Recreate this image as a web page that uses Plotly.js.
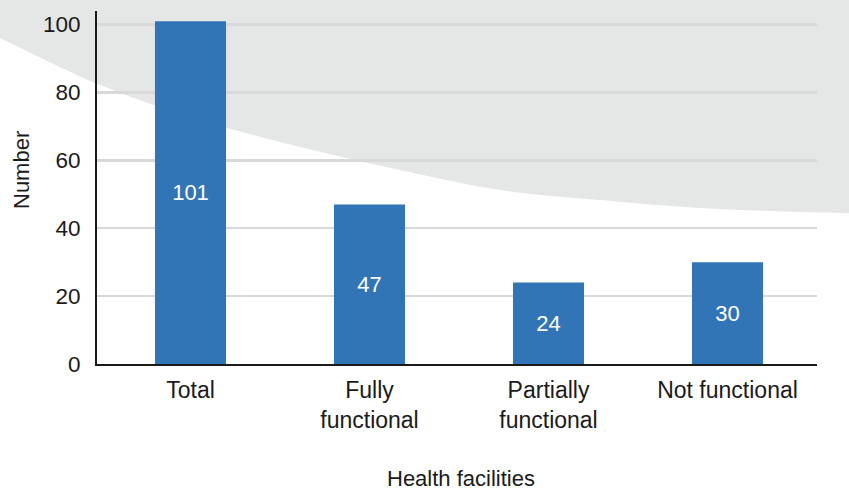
<!DOCTYPE html>
<html><head><meta charset="utf-8">
<script src="https://cdn.plot.ly/plotly-3.0.1.min.js"></script>
<style>html,body{margin:0;padding:0;background:#fff}#c{width:849px;height:490px}</style>
</head><body><div id="c"></div>
<script>
const categories = ["Total", "Fully<br>functional", "Partially<br>functional", "Not functional"];
const values = [101, 47, 24, 30];
const yTicks = [0, 20, 40, 60, 80, 100];

const W = 849, H = 490;
const M = {l: 97, r: 32, t: 11, b: 126};
const pw = W - M.l - M.r, ph = H - M.t - M.b;
function px2paper(x, y) { return [(x - M.l) / pw, (H - M.b - y) / ph]; }

// decorative background curve (pixel guide points)
const curve = [[849,213],[800,212],[700,208],[600,200],[500,190],[400,170],[300,147],[200,120],[100,85],[0,38]];
function pathFromCurve() {
  const pts = curve.map(p => px2paper(p[0], p[1]));
  let tl = px2paper(0, 0), tr = px2paper(849, 0);
  let d = `M${tl[0]},${tl[1]} L${tr[0]},${tr[1]} L${pts[0][0]},${pts[0][1]}`;
  for (let i = 0; i < pts.length - 1; i++) {
    const p0 = pts[Math.max(i - 1, 0)], p1 = pts[i], p2 = pts[i + 1], p3 = pts[Math.min(i + 2, pts.length - 1)];
    const c1 = [p1[0] + (p2[0] - p0[0]) / 6, p1[1] + (p2[1] - p0[1]) / 6];
    const c2 = [p2[0] - (p3[0] - p1[0]) / 6, p2[1] - (p3[1] - p1[1]) / 6];
    d += ` C${c1[0]},${c1[1]} ${c2[0]},${c2[1]} ${p2[0]},${p2[1]}`;
  }
  return d + " Z";
}

const font = "Liberation Sans, Arial, sans-serif";
const trace = {
  type: "bar", x: categories, y: values,
  marker: {color: "#3275b7"},
  width: 0.397,
  text: values.map(String), textposition: "inside", insidetextanchor: "middle",
  textfont: {color: "#ffffff", size: 22, family: font},
  hoverinfo: "none", cliponaxis: false
};
const yt = px2paper(22, 170), xt = px2paper(461, 479);
const layout = {
  width: W, height: H,
  margin: M,
  paper_bgcolor: "#ffffff", plot_bgcolor: "rgba(0,0,0,0)",
  font: {family: font, color: "#1a1a1a"},
  showlegend: false,
  xaxis: {range: [-0.5 - 4 / 179, 3.5], showline: true, linecolor: "#1a1a1a", linewidth: 2, showgrid: false, zeroline: false,
          ticks: "", ticklabelstandoff: 4, tickfont: {size: 23, color: "#1a1a1a"}, fixedrange: true},
  yaxis: {range: [0, 104], tickvals: yTicks, showline: true, linecolor: "#1a1a1a", linewidth: 2,
          showgrid: true, gridcolor: "#d9d9d9", gridwidth: 2.5, zeroline: false,
          ticks: "", ticklabelstandoff: 10, tickfont: {size: 22.5, color: "#1a1a1a"}, fixedrange: true},
  shapes: [{type: "path", xref: "paper", yref: "paper", path: pathFromCurve(),
            fillcolor: "#e5e6e6", line: {width: 0}, layer: "below"}],
  annotations: [
    {text: "Number", xref: "paper", yref: "paper", x: yt[0], y: yt[1], showarrow: false,
     textangle: -90, font: {size: 22, color: "#1a1a1a"}, xanchor: "center", yanchor: "middle"},
    {text: "Health facilities", xref: "paper", yref: "paper", x: xt[0], y: xt[1], showarrow: false,
     font: {size: 22, color: "#1a1a1a"}, xanchor: "center", yanchor: "middle"}
  ]
};
Plotly.newPlot("c", [trace], layout, {staticPlot: true, displayModeBar: false});
</script></body></html>
